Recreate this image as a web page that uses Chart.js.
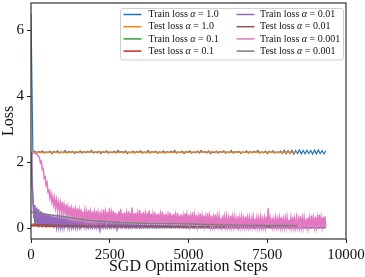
<!DOCTYPE html>
<html><head><meta charset="utf-8">
<script src="https://cdn.jsdelivr.net/npm/chart.js@4/dist/chart.umd.min.js"></script>
<style>html,body{margin:0;padding:0;background:#fff;} canvas{display:block;}</style>
</head><body>
<canvas id="c" width="365" height="277"></canvas>
<script>
// ---- data ----
const STEP_COARSE = 60; // SGD steps between kept samples (α = 1.0, α = 0.1)
const STEP_FINE = 30;   // SGD steps between kept samples (α = 0.01, α = 0.001)
const testSteps = [0, 938, 1876, 2814, 3752, 4690, 5628, 6566, 7504, 8442];

const trainLossA1 = [6.50,
2.28,2.33,2.27,2.32,2.29,2.34,2.27,2.31,2.28,2.33,2.26,2.32,
2.29,2.34,2.27,2.31,2.28,2.35,2.27,2.32,2.29,2.33,2.26,2.31,
2.28,2.34,2.27,2.32,2.28,2.33,2.29,2.35,2.27,2.31,2.28,2.33,
2.26,2.32,2.29,2.34,2.27,2.31,2.28,2.33,2.27,2.35,2.29,2.32,
2.28,2.34,2.26,2.31,2.28,2.33,2.27,2.32,2.29,2.34,2.27,2.31,
2.28,2.35,2.27,2.32,2.29,2.33,2.26,2.31,2.28,2.34,2.27,2.32,
2.28,2.33,2.29,2.35,2.27,2.31,2.28,2.33,2.26,2.32,2.29,2.34,
2.27,2.31,2.28,2.33,2.27,2.35,2.29,2.32,2.28,2.34,2.26,2.31,
2.28,2.33,2.27,2.32,2.29,2.34,2.27,2.31,2.28,2.35,2.27,2.32,
2.29,2.33,2.26,2.31,2.28,2.34,2.27,2.32,2.28,2.33,2.29,2.35,
2.27,2.31,2.28,2.33,2.26,2.32,2.29,2.34,2.27,2.31,2.28,2.33,
2.26,2.36,2.25,2.35,2.26,2.36,2.24,2.35,2.26,2.37,2.25,2.35,
2.25,2.36,2.26,2.35,2.24,2.36,2.25,2.37,2.26,2.35,2.25,2.34];
const testLossA1 = [2.30,2.30,2.31,2.30,2.30,2.30,2.31,2.30,2.30,2.30];

const trainLossA01 = [
2.30,0.90,0.15,0.28,0.05,0.18,0.04,0.13,0.03,0.11,
0.03,0.10,0.02,0.09,0.03,0.08,0.02,0.09,0.02,0.07,
0.02,0.07,0.01,0.06,0.02,0.08,0.01,0.06,0.02,0.07,0.01,0.05,
0.02,0.06,0.01,0.07,0.01,0.05,0.02,0.06,0.01,0.05,0.01,0.06,
0.01,0.05,0.02,0.06,0.01,0.04,0.01,0.05,0.01,0.06,0.01,0.04,
0.01,0.05,0.01,0.04,0.02,0.05,0.01,0.04,0.01,0.05,0.01,0.04,
0.01,0.04,0.01,0.05,0.01,0.04,0.01,0.03,0.01,0.04,0.01,0.05,
0.01,0.04,0.01,0.03,0.01,0.04,0.01,0.03,0.01,0.04,0.01,0.03,
0.01,0.04,0.01,0.03,0.01,0.04,0.01,0.03,0.01,0.04,0.01,0.03,
0.01,0.03,0.01,0.04,0.01,0.03,0.01,0.03,0.01,0.04,0.01,0.03,
0.01,0.03,0.01,0.03,0.01,0.04,0.01,0.03,0.01,0.03,0.01,0.03,
0.01,0.03,0.01,0.03,0.01,0.03,0.01,0.04,0.01,0.03,0.01,0.03,
0.01,0.03,0.01,0.03,0.01,0.03,0.01,0.03,0.01,0.03,0.01,0.03,
0.01,0.03,0.01,0.03,0.01];
const testLossA01 = [0.07,0.05,0.04,0.04,0.04,0.03,0.03,0.03,0.03,0.03];

const trainLossA001 = [
2.30,1.60,0.85,0.30,0.70,0.12,0.62,0.10,0.58,0.09,
0.52,0.08,0.48,0.08,0.45,0.07,0.43,0.07,0.40,0.07,
0.39,0.06,0.37,0.06,0.36,0.06,0.35,0.06,0.33,0.06,
0.32,0.05,0.31,0.05,0.30,0.05,0.29,0.05,0.28,0.05,
0.27,0.05,0.26,0.05,0.25,0.05,0.25,0.04,0.24,0.04,
0.23,0.04,0.22,0.04,0.22,0.04,0.21,0.04,0.20,0.04,
0.20,0.04,0.19,0.04,0.19,0.04,0.18,0.04,0.18,0.03,
0.17,0.03,0.17,0.03,0.16,0.03,0.16,0.03,0.16,0.03,
0.15,0.03,0.15,0.03,0.15,0.03,0.14,0.03,0.14,0.03,
0.14,0.03,0.13,0.03,0.13,0.03,0.13,0.03,0.12,0.03,
0.12,0.02,0.12,0.02,0.12,0.02,0.11,0.02,0.11,0.02,
0.11,0.02,0.11,0.02,0.10,0.02,0.10,0.02,0.10,0.02,
0.10,0.02,0.10,0.02,0.09,0.02,0.09,0.02,0.09,0.02,
0.09,0.02,0.09,0.02,0.09,0.02,0.08,0.02,0.08,0.02,
0.08,0.02,0.08,0.02,0.08,0.02,0.08,0.02,0.08,0.02,
0.07,0.02,0.07,0.02,0.07,0.02,0.07,0.02,0.07,0.02,
0.07,0.01,0.07,0.01,0.07,0.01,0.06,0.01,0.07,0.01,
0.06,0.01,0.06,0.01,0.07,0.01,0.06,0.01,0.06,0.01,
0.06,0.01,0.06,0.01,0.06,0.01,0.06,0.01,0.06,0.01,
0.06,0.01,0.05,0.01,0.06,0.01,0.05,0.01,0.06,0.01,
0.05,0.01,0.05,0.01,0.06,0.01,0.05,0.01,0.05,0.01,
0.05,0.01,0.05,0.01,0.05,0.01,0.05,0.01,0.05,0.01,
0.05,0.01,0.05,0.01,0.05,0.01,0.04,0.01,0.05,0.01,
0.04,0.01,0.05,0.01,0.04,0.01,0.05,0.01,0.04,0.01,
0.04,0.01,0.04,0.01,0.05,0.01,0.04,0.01,0.04,0.01,
0.04,0.01,0.04,0.01,0.04,0.01,0.04,0.01,0.04,0.01,
0.04,0.01,0.04,0.01,0.04,0.01,0.04,0.01,0.04,0.01,
0.04,0.01,0.04,0.01,0.03,0.01,0.04,0.01,0.03,0.01,
0.03,0.01,0.04,0.01,0.03,0.01,0.03,0.01,0.04,0.01,
0.03,0.01,0.03,0.01,0.03,0.01,0.03,0.01,0.03,0.01,
0.03,0.01,0.03,0.01,0.03,0.01,0.03,0.01,0.03,0.01,
0.03,0.01,0.03];
const testLossA001 = [0.12,0.08,0.07,0.06,0.06,0.05,0.05,0.05,0.05,0.05];

const trainLossA0001 = [
2.30,2.30,2.29,2.28,2.27,2.26,2.24,2.21,2.18,2.12,
1.98,2.02,1.78,1.80,1.52,1.55,1.30,1.38,1.08,1.18,
0.92,1.05,0.80,0.95,0.70,0.90,0.62,0.85,0.58,0.78,
0.52,0.76,0.50,0.80,0.46,0.70,0.44,0.72,0.40,0.64,
0.38,0.66,0.36,0.58,0.34,0.62,0.33,0.56,0.31,0.60,
0.30,0.54,0.29,0.57,0.28,0.50,0.27,0.53,0.26,0.49,
0.25,0.55,0.24,0.48,0.23,0.51,0.22,0.46,0.22,0.52,
0.21,0.47,0.21,0.50,0.20,0.44,0.20,0.56,0.19,0.46,
0.19,0.49,0.18,0.60,0.18,0.45,0.18,0.52,0.17,0.47,
0.17,0.44,0.17,0.50,0.16,0.58,0.16,0.45,0.16,0.48,
0.16,0.43,0.15,0.52,0.15,0.46,0.15,0.62,0.15,0.44,
0.15,0.47,0.14,0.42,0.14,0.55,0.14,0.45,0.14,0.49,
0.14,0.41,0.13,0.46,0.13,0.53,0.13,0.43,0.13,0.40,
0.13,0.48,0.12,0.42,0.12,0.45,0.12,0.39,0.12,0.50,
0.12,0.41,0.12,0.44,0.11,0.38,0.11,0.47,0.11,0.40,
0.11,0.43,0.11,0.37,0.11,0.46,0.10,0.39,0.10,0.42,
0.10,0.36,0.10,0.44,0.10,0.38,0.10,0.41,0.10,0.35,
0.10,0.48,0.09,0.37,0.09,0.40,0.09,0.34,0.09,0.43,
0.09,0.36,0.09,0.39,0.09,0.33,0.08,0.45,0.08,0.35,
0.08,0.38,0.08,0.32,0.08,0.41,0.08,0.34,0.08,0.36,
0.08,0.31,0.07,0.39,0.07,0.33,0.07,0.35,0.07,0.30,
0.07,0.37,0.07,0.32,0.07,0.34,0.07,0.29,0.06,0.36,
0.06,0.31,0.06,0.33,0.06,0.28,0.06,0.35,0.06,0.30,
0.06,0.32,0.06,0.27,0.06,0.34,0.06,0.29,0.06,0.31,
0.05,0.28,0.05,0.33,0.05,0.27,0.05,0.30,0.05,0.35,
0.05,0.60,0.05,0.29,0.05,0.32,0.05,0.27,0.05,0.31,
0.05,0.26,0.05,0.30,0.05,0.33,0.04,0.27,0.04,0.29,
0.04,0.32,0.04,0.26,0.04,0.30,0.04,0.34,0.04,0.28,
0.04,0.31,0.04,0.27,0.04,0.36,0.04,0.29,0.04,0.32,
0.04,0.28,0.04,0.33,0.04,0.30,0.04,0.38,0.04,0.29,
0.04,0.34,0.04,0.30,0.04,0.40,0.04,0.31,0.04,0.33,
0.04,0.36,0.05];
const testLossA0001 = [0.48,0.36,0.23,0.17,0.14,0.13,0.11,0.09,0.08,0.08];

const seriesLabels = [
  'Train loss α = 1.0', 'Test loss α = 1.0',
  'Train loss α = 0.1', 'Test loss α = 0.1',
  'Train loss α = 0.01', 'Test loss α = 0.01',
  'Train loss α = 0.001', 'Test loss α = 0.001'
];
const xTicks = [0, 2500, 5000, 7500, 10000];
const yTicks = [0, 2, 4, 6];
const xTitle = 'SGD Optimization Steps';
const yTitle = 'Loss';

// ---- styles ----
const colors = ['#1f77b4','#ff7f0e','#2ca02c','#d62728','#9467bd','#8c564b','#e377c2','#7f7f7f'];
const widths = [1.2, 1.4, 1.2, 1.4, 1.5, 1.4, 1.5, 1.4];
const FONT = "'Liberation Serif', 'Times New Roman', serif";

const trainPts = (arr, step) => arr.map((v, i) => ({x: i * step, y: v}));
const testPts = arr => arr.map((v, i) => ({x: testSteps[i], y: v}));
const seriesData = [
  trainPts(trainLossA1, STEP_COARSE), testPts(testLossA1),
  trainPts(trainLossA01, STEP_COARSE), testPts(testLossA01),
  trainPts(trainLossA001, STEP_FINE), testPts(testLossA001),
  trainPts(trainLossA0001, STEP_FINE), testPts(testLossA0001)
];

const datasets = seriesData.map((d, i) => ({
  label: seriesLabels[i],
  data: d,
  borderColor: colors[i],
  backgroundColor: colors[i],
  borderWidth: widths[i],
  pointRadius: 0,
  fill: false,
  tension: 0,
  order: 7 - i
}));

const decorPlugin = {
  id: 'decor',
  afterDatasetsDraw(chart) {
    const {ctx, chartArea: a} = chart;
    ctx.save();
    ctx.strokeStyle = '#333';
    ctx.lineWidth = 1.2;
    ctx.strokeRect(a.left, a.top, a.right - a.left, a.bottom - a.top);
    ctx.restore();
  },
  afterDraw(chart) {
    const {ctx, chartArea: a} = chart;
    ctx.save();
    ctx.fillStyle = '#111';
    ctx.font = `16px ${FONT}`;
    ctx.textAlign = 'center';
    ctx.textBaseline = 'alphabetic';
    ctx.fillText(xTitle, (a.left + a.right) / 2, 271);
    ctx.save();
    ctx.translate(13, (a.top + a.bottom) / 2);
    ctx.rotate(-Math.PI / 2);
    ctx.fillText(yTitle, 0, 0);
    ctx.restore();

    const L = {x: 120, y: 8, w: 223, h: 51.5, rows: [14.5, 26.7, 38.9, 51.1], hx: [123.5, 236.5], hlen: 18, tx: [148.5, 260]};
    ctx.beginPath();
    ctx.roundRect(L.x + 0.5, L.y + 0.5, L.w, L.h, 2.5);
    ctx.fillStyle = 'rgba(255,255,255,0.85)';
    ctx.fill();
    ctx.strokeStyle = '#cfcfcf';
    ctx.lineWidth = 1;
    ctx.stroke();
    const fs = 10;
    seriesLabels.forEach((lab, i) => {
      const col = Math.floor(i / 4), row = i % 4;
      const y = L.rows[row];
      ctx.beginPath();
      ctx.strokeStyle = colors[i];
      ctx.lineWidth = 1.5;
      ctx.moveTo(L.hx[col], y);
      ctx.lineTo(L.hx[col] + L.hlen, y);
      ctx.stroke();
      const parts = lab.split('α');
      let x = L.tx[col];
      ctx.fillStyle = '#111';
      ctx.textAlign = 'left';
      ctx.textBaseline = 'middle';
      ctx.font = `${fs}px ${FONT}`;
      ctx.fillText(parts[0], x, y);
      x += ctx.measureText(parts[0]).width;
      ctx.font = `italic ${fs}px ${FONT}`;
      ctx.fillText('α', x, y);
      x += ctx.measureText('α').width;
      ctx.font = `${fs}px ${FONT}`;
      ctx.fillText(parts[1], x, y);
    });
    ctx.restore();
  }
};

const zeroPad = s => { s.paddingTop = 0; s.paddingBottom = 0; s.paddingLeft = 0; s.paddingRight = 0; };

new Chart(document.getElementById('c').getContext('2d'), {
  type: 'line',
  data: {datasets},
  options: {
    responsive: false,
    animation: false,
    events: [],
    layout: {padding: {left: 0, right: 19, top: 3, bottom: 0}, autoPadding: false},
    plugins: {legend: {display: false}, tooltip: {enabled: false}},
    scales: {
      x: {
        type: 'linear', min: 0, max: 10000,
        afterBuildTicks: s => { s.ticks = xTicks.map(v => ({value: v})); },
        afterFit: s => { s.height = 38; zeroPad(s); },
        grid: {drawOnChartArea: false, drawTicks: true, tickLength: 4, tickColor: '#222', lineWidth: 1},
        border: {display: false},
        ticks: {padding: 3, color: '#111', font: {family: FONT, size: 15}, maxRotation: 0, autoSkip: false, callback: v => String(v)}
      },
      y: {
        type: 'linear', min: -0.33, max: 6.82,
        afterBuildTicks: s => { s.ticks = yTicks.map(v => ({value: v})); },
        afterFit: s => { s.width = 31; zeroPad(s); },
        grid: {drawOnChartArea: false, drawTicks: true, tickLength: 4, tickColor: '#222', lineWidth: 1},
        border: {display: false},
        ticks: {padding: 3, color: '#111', font: {family: FONT, size: 15}, autoSkip: false, callback: v => String(v)}
      }
    }
  },
  plugins: [decorPlugin]
});
</script>
</body></html>
